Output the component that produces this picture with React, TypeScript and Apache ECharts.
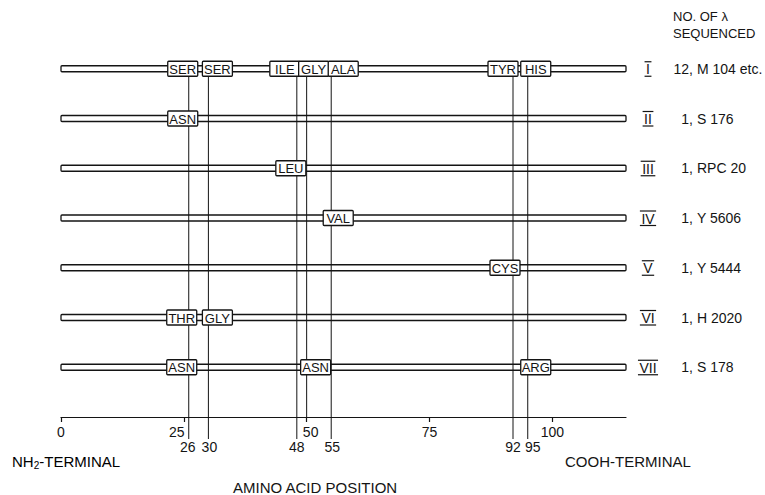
import React, { useEffect, useRef } from 'react';
import * as echarts from 'echarts';

// ---- data ----
const rowNumerals = ['I', 'II', 'III', 'IV', 'V', 'VI', 'VII'];
const rowCounts = [12, 1, 1, 1, 1, 1, 1];
const rowStrains = ['M 104 etc.', 'S 176', 'RPC 20', 'Y 5606', 'Y 5444', 'H 2020', 'S 178'];
const chainLength = 115;
const axisTicks = [0, 25, 50, 75, 100];
const markedPositions = [26, 30, 48, 50, 55, 92, 95];
const boxRows = [1, 1, 1, 1, 1, 1, 1, 2, 3, 4, 5, 6, 6, 7, 7, 7];
const boxPositions = [26, 30, 48, 50, 55, 92, 95, 26, 48, 55, 92, 26, 30, 26, 50, 95];
const boxResidues = ['SER', 'SER', 'ILE', 'GLY', 'ALA', 'TYR', 'HIS', 'ASN', 'LEU', 'VAL', 'CYS', 'THR', 'GLY', 'ASN', 'ASN', 'ARG'];

// ---- layout (pixel nudges so neighbouring labels do not collide) ----
const boxNudgePx = [-6, 9, -12, 7, 12, -10, 8, -6, -6, 7, -8, -7, 9, -7, 9, 8];
const markerLabelNudgePx = [-1, 1, 0, 0, 1, 0, 5];

const FONT_FAMILY = '"Liberation Sans", Arial, Helvetica, sans-serif';
const INK = '#141414';

let measureCtx: CanvasRenderingContext2D | null = null;
function textWidth(t: string, font: string): number {
  if (!measureCtx) measureCtx = document.createElement('canvas').getContext('2d');
  if (!measureCtx) return t.length * 7;
  measureCtx.font = font;
  return measureCtx.measureText(t).width;
}

export default function App() {
  const ref = useRef<HTMLDivElement>(null);

  useEffect(() => {
    if (!ref.current) return;
    const chart = echarts.init(ref.current, undefined, { renderer: 'svg' });
    const nRows = rowNumerals.length;

    const option: any = {
      animation: false,
      backgroundColor: '#ffffff',
      grid: { left: 61, right: 139, top: 19, bottom: 78 },
      xAxis: {
        type: 'value',
        position: 'bottom',
        min: 0,
        max: chainLength,
        interval: 25,
        splitLine: { show: false },
        axisLine: { show: true, onZero: false, lineStyle: { color: INK, width: 1.2 } },
        axisTick: {
          show: true,
          length: 5,
          customValues: axisTicks,
          lineStyle: { color: INK, width: 1.2 },
        },
        axisLabel: {
          show: true,
          customValues: axisTicks,
          margin: 8,
          color: INK,
          fontFamily: FONT_FAMILY,
          fontSize: 14,
          formatter: (v: number) => {
            if (v === 25) return '{l|25}';
            if (v === 50) return '{r|50}';
            return String(v);
          },
          rich: {
            l: { padding: [0, 14, 0, 0], fontSize: 14, fontFamily: FONT_FAMILY, color: INK },
            r: { padding: [0, 0, 0, 8], fontSize: 14, fontFamily: FONT_FAMILY, color: INK },
          },
        },
      },
      yAxis: {
        type: 'value',
        min: 0,
        max: nRows + 1,
        inverse: true,
        show: false,
      },
      series: [
        {
          type: 'custom',
          name: 'chains',
          z: 1,
          data: rowNumerals.map((_, i) => [0, i + 1, chainLength]),
          renderItem: (params: any, api: any) => {
            const row = api.value(1);
            const p0 = api.coord([api.value(0), row]);
            const p1 = api.coord([api.value(2), row]);
            return {
              type: 'rect',
              shape: { x: p0[0], y: p0[1] - 3, width: p1[0] - p0[0], height: 6, r: 1 },
              style: { fill: '#ffffff', stroke: INK, lineWidth: 1.3 },
            };
          },
        },
        {
          type: 'custom',
          name: 'markers',
          z: 2,
          data: markedPositions.map((p, i) => [p, i]),
          renderItem: (params: any, api: any) => {
            const p = api.value(0);
            const i = api.value(1);
            const top = api.coord([p, 1]);
            const axisY = api.coord([p, nRows + 1])[1];
            const labeled = axisTicks.indexOf(p) < 0;
            const bottom = labeled ? axisY + 22 : axisY;
            const children: any[] = [
              {
                type: 'line',
                shape: { x1: top[0], y1: top[1], x2: top[0], y2: bottom },
                style: { stroke: INK, lineWidth: 1 },
              },
            ];
            if (labeled) {
              children.push({
                type: 'text',
                style: {
                  text: String(p),
                  x: top[0] + markerLabelNudgePx[i],
                  y: bottom + 1,
                  align: 'center',
                  verticalAlign: 'top',
                  font: `14px ${FONT_FAMILY}`,
                  fill: INK,
                },
              });
            }
            return { type: 'group', children };
          },
        },
        {
          type: 'custom',
          name: 'substitutions',
          z: 3,
          data: boxPositions.map((p, i) => [p, boxRows[i], i]),
          renderItem: (params: any, api: any) => {
            const i = api.value(2);
            const c = api.coord([api.value(0), api.value(1)]);
            const cx = c[0] + boxNudgePx[i];
            const w = 30;
            const h = 15;
            return {
              type: 'group',
              children: [
                {
                  type: 'rect',
                  shape: { x: cx - w / 2, y: c[1] - h / 2, width: w, height: h, r: 1 },
                  style: { fill: '#ffffff', stroke: INK, lineWidth: 1.3 },
                },
                {
                  type: 'text',
                  style: {
                    text: boxResidues[i],
                    x: cx,
                    y: c[1] + 0.5,
                    align: 'center',
                    verticalAlign: 'middle',
                    font: `13px ${FONT_FAMILY}`,
                    fill: INK,
                  },
                },
              ],
            };
          },
        },
        {
          type: 'custom',
          name: 'rowLabels',
          z: 3,
          data: rowNumerals.map((_, i) => [chainLength, i + 1, i]),
          renderItem: (params: any, api: any) => {
            const i = api.value(2);
            const e = api.coord([api.value(0), api.value(1)]);
            const x0 = e[0];
            const y = e[1];
            const nFont = `14px ${FONT_FAMILY}`;
            const numeral = rowNumerals[i];
            const nx = x0 + 22;
            const w = textWidth(numeral, nFont) + 3;
            return {
              type: 'group',
              children: [
                {
                  type: 'text',
                  style: { text: numeral, x: nx, y: y + 0.5, align: 'center', verticalAlign: 'middle', font: nFont, fill: INK },
                },
                {
                  type: 'line',
                  shape: { x1: nx - w / 2, y1: y - 7, x2: nx + w / 2, y2: y - 7 },
                  style: { stroke: INK, lineWidth: 1.2 },
                },
                {
                  type: 'line',
                  shape: { x1: nx - w / 2, y1: y + 7.5, x2: nx + w / 2, y2: y + 7.5 },
                  style: { stroke: INK, lineWidth: 1.2 },
                },
                {
                  type: 'text',
                  style: {
                    text: rowCounts[i] + ',',
                    x: x0 + 67,
                    y,
                    align: 'right',
                    verticalAlign: 'middle',
                    font: `14px ${FONT_FAMILY}`,
                    fill: INK,
                  },
                },
                {
                  type: 'text',
                  style: {
                    text: rowStrains[i],
                    x: x0 + 71,
                    y,
                    align: 'left',
                    verticalAlign: 'middle',
                    font: `14px ${FONT_FAMILY}`,
                    fill: INK,
                  },
                },
              ],
            };
          },
        },
      ],
      graphic: [
        {
          type: 'text',
          left: 673,
          top: 10,
          style: { text: 'NO. OF λ', font: `13px ${FONT_FAMILY}`, fill: INK },
        },
        {
          type: 'text',
          left: 673,
          top: 27,
          style: { text: 'SEQUENCED', font: `13px ${FONT_FAMILY}`, fill: INK },
        },
        {
          type: 'text',
          left: 12,
          top: 454,
          style: {
            text: '{a|NH}{s|2}{a|-TERMINAL}',
            rich: {
              a: { fontSize: 15, fontFamily: FONT_FAMILY, color: INK },
              s: { fontSize: 10, fontFamily: FONT_FAMILY, color: INK, padding: [7, 0, 0, 0] },
            },
          },
        },
        {
          type: 'text',
          left: 565,
          top: 454,
          style: { text: 'COOH-TERMINAL', font: `15px ${FONT_FAMILY}`, fill: INK },
        },
        {
          type: 'text',
          left: 233,
          top: 480,
          style: { text: 'AMINO ACID POSITION', font: `15px ${FONT_FAMILY}`, fill: INK },
        },
      ],
    };

    chart.setOption(option);
    return () => chart.dispose();
  }, []);

  return (
    <div
      ref={ref}
      style={{ position: 'absolute', left: 0, top: 0, width: 765, height: 495, background: '#fff' }}
    />
  );
}
